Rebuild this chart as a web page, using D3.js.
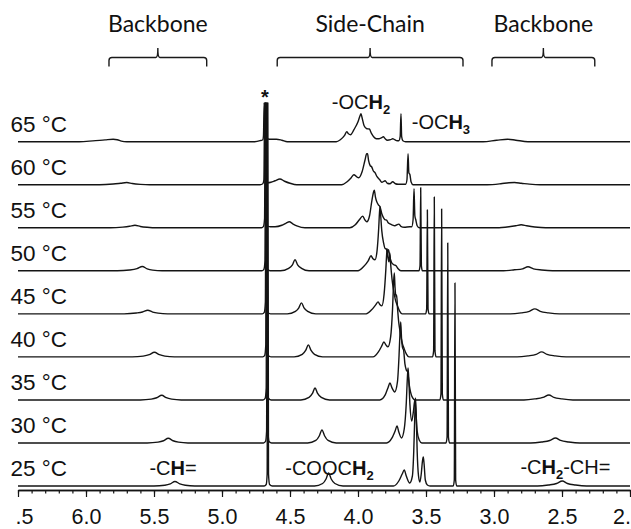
<!DOCTYPE html>
<html><head><meta charset="utf-8">
<script src="https://cdn.jsdelivr.net/npm/d3@7"></script>
<style>
body{margin:0;background:#fff} svg{display:block}
.arial{font-family:"Liberation Sans","Arimo",Arial,Helvetica,sans-serif}
.head{font-family:Lato,"Open Sans",sans-serif}
</style>
</head><body>
<svg id="c" width="631" height="529"></svg>
<script>
// ---------------- data ----------------
const temps = [25, 30, 35, 40, 45, 50, 55, 60, 65];
const tempLabels = ["25 °C", "30 °C", "35 °C", "40 °C", "45 °C", "50 °C", "55 °C", "60 °C", "65 °C"];

// [ppm, intensity] vertices of each spectrum
const spec25 = [[5.50,0],[5.42,0.8],[5.38,2.2],[5.346,4.5],[5.31,2.2],[5.27,0.8],[5.20,0],
 [4.69,0],[4.675,1.5],[4.668,12],[4.663,383],[4.658,12],[4.65,1.5],[4.63,0],
 [4.32,0],[4.26,2.5],[4.235,7],[4.216,13],[4.197,7],[4.17,2.5],[4.11,0],
 [3.74,0],[3.70,5],[3.675,12],[3.66,16],[3.645,10],[3.62,3],[3.60,10],[3.59,35],[3.582,72],[3.577,88],[3.572,72],[3.565,35],[3.555,10],[3.545,4],[3.535,12],[3.526,25],[3.52,29],[3.514,22],[3.505,6],[3.49,1],[3.47,0],
 [3.30,0],[3.292,6],[3.287,203],[3.282,6],[3.274,0],
 [2.68,0],[2.60,1],[2.54,2.5],[2.498,5],[2.46,2.5],[2.40,1],[2.32,0]];
const spec30 = [[5.55,0],[5.47,0.8],[5.43,2.2],[5.395,4.7],[5.36,2.2],[5.32,0.8],[5.25,0],
 [4.695,0],[4.68,1.5],[4.672,12],[4.667,340],[4.662,12],[4.654,1.5],[4.635,0],
 [4.37,0],[4.31,2.5],[4.285,7],[4.265,13],[4.245,7],[4.22,2.5],[4.16,0],
 [3.79,0],[3.75,5],[3.727,12],[3.713,17],[3.70,11],[3.68,5],[3.66,14],[3.645,40],[3.637,65],[3.632,75],[3.627,65],[3.618,38],[3.605,22],[3.592,32],[3.582,43],[3.575,32],[3.565,12],[3.55,3],[3.53,0],
 [3.353,0],[3.345,6],[3.340,200],[3.335,6],[3.327,0],
 [2.73,0],[2.65,1],[2.59,2.5],[2.548,5],[2.51,2.5],[2.45,1],[2.37,0]];
const spec35 = [[5.60,0],[5.52,0.8],[5.48,2.2],[5.443,4.7],[5.41,2.2],[5.37,0.8],[5.30,0],
 [4.698,0],[4.683,1.5],[4.675,12],[4.670,297],[4.665,12],[4.657,1.5],[4.638,0],
 [4.42,0],[4.36,2.5],[4.335,6.5],[4.316,12],[4.297,6.5],[4.27,2.5],[4.21,0],
 [3.84,0],[3.80,5],[3.78,12],[3.765,17],[3.75,12],[3.73,8],[3.71,18],[3.698,45],[3.691,68],[3.686,78],[3.68,62],[3.672,52],[3.665,50],[3.655,36],[3.645,30],[3.635,28],[3.622,14],[3.605,4],[3.58,0],
 [3.398,0],[3.39,6],[3.385,191],[3.38,6],[3.372,0],
 [2.78,0],[2.70,1],[2.64,2.5],[2.596,5],[2.56,2.5],[2.50,1],[2.42,0]];
const spec40 = [[5.66,0],[5.58,0.8],[5.535,2.2],[5.497,4.7],[5.46,2.2],[5.42,0.8],[5.35,0],
 [4.70,0],[4.686,1.5],[4.678,12],[4.673,254],[4.668,12],[4.66,1.5],[4.64,0],
 [4.47,0],[4.41,2.5],[4.385,6.5],[4.365,12],[4.345,6.5],[4.32,2.5],[4.26,0],
 [3.89,0],[3.85,5],[3.825,11],[3.81,15],[3.795,12],[3.78,10],[3.76,20],[3.746,48],[3.738,75],[3.733,84],[3.728,70],[3.72,60],[3.716,62],[3.709,48],[3.70,34],[3.69,25],[3.675,14],[3.66,8],[3.645,3],[3.625,0],
 [3.452,0],[3.444,6],[3.439,160],[3.434,6],[3.426,0],
 [2.83,0],[2.75,1],[2.69,2.5],[2.65,5],[2.61,2.5],[2.55,1],[2.47,0]];
const spec45 = [[5.72,0],[5.63,0.8],[5.585,1.8],[5.546,3.6],[5.51,1.8],[5.47,0.7],[5.40,0],
 [4.704,0],[4.689,1.5],[4.681,12],[4.676,211],[4.671,12],[4.663,1.5],[4.643,0],
 [4.52,0],[4.46,2.5],[4.435,6],[4.416,11],[4.397,6],[4.37,2.5],[4.31,0],
 [3.94,0],[3.90,4],[3.87,9],[3.852,12],[3.838,9],[3.825,8],[3.808,20],[3.795,45],[3.789,60],[3.785,65],[3.78,57],[3.772,52],[3.766,61],[3.76,50],[3.75,35],[3.74,25],[3.725,14],[3.71,8],[3.695,3],[3.675,0],
 [3.503,0],[3.495,5],[3.490,104],[3.485,5],[3.477,0],
 [2.88,0],[2.80,1],[2.74,2.5],[2.70,5],[2.66,2.5],[2.60,1],[2.52,0]];
const spec50 = [[5.77,0],[5.68,0.8],[5.625,2.2],[5.586,4.3],[5.55,2.0],[5.51,0.7],[5.44,0],
 [4.707,0],[4.692,1.5],[4.684,10],[4.679,168],[4.674,10],[4.666,1.5],[4.646,0],
 [4.57,0],[4.51,2.5],[4.482,6],[4.463,11],[4.444,6],[4.415,2.5],[4.36,0],
 [4.00,0],[3.96,4],[3.925,10],[3.904,15],[3.89,12],[3.875,11],[3.86,20],[3.848,42],[3.842,58],[3.838,64],[3.833,55],[3.825,40],[3.812,28],[3.80,22],[3.792,22],[3.784,18],[3.776,21],[3.766,14],[3.752,8],[3.735,6],[3.72,5],[3.705,2],[3.685,0],
 [3.552,0],[3.544,5],[3.539,83],[3.534,5],[3.526,0],
 [2.93,0],[2.85,1],[2.79,2],[2.75,4],[2.71,2],[2.65,0.8],[2.57,0]];
const spec55 = [[5.82,0],[5.73,0.7],[5.68,1.5],[5.64,2.5],[5.60,1.3],[5.55,0.5],[5.48,0],
 [4.71,0],[4.695,1.5],[4.687,9],[4.682,125],[4.677,9],[4.668,2],[4.645,1],
 [4.61,1],[4.56,2.5],[4.53,4.5],[4.505,6],[4.48,4],[4.45,2],[4.39,0],
 [4.06,0],[4.02,3],[3.99,8],[3.966,11.7],[3.95,8],[3.935,6],[3.915,12],[3.897,28],[3.885,36],[3.88,37.7],[3.872,31],[3.862,26],[3.85,23],[3.838,21],[3.825,14],[3.812,10],[3.80,8],[3.79,7.7],[3.778,5],[3.765,4],[3.75,3],[3.73,2],[3.70,3.7],[3.685,1.5],[3.66,0.5],[3.62,1],
 [3.605,1],[3.595,8],[3.588,39],[3.582,12],[3.575,8],[3.565,2],[3.55,0],
 [2.98,0],[2.89,1],[2.84,2],[2.80,3],[2.76,2],[2.70,0.8],[2.62,0]];
const spec60 = [[5.90,0],[5.80,0.7],[5.745,1.5],[5.70,2.2],[5.66,1.2],[5.60,0.4],[5.53,0],
 [4.72,0],[4.70,1],[4.692,5],[4.686,82],[4.680,5],[4.665,2],[4.64,2.5],[4.61,4],[4.574,5.7],[4.54,3.5],[4.50,1.5],[4.45,0],
 [4.12,0],[4.08,3],[4.05,7],[4.03,10],[4.01,8],[3.995,7],[3.97,13],[3.948,25],[3.936,31],[3.93,31],[3.922,24],[3.91,19],[3.90,18],[3.888,14],[3.875,12],[3.86,8],[3.84,5],[3.825,2.5],[3.80,4],[3.785,1.5],[3.765,1],[3.745,3],[3.725,1],[3.705,0.5],
 [3.65,0.5],[3.64,5],[3.632,31],[3.626,12],[3.618,10],[3.61,3],[3.595,0],
 [3.05,0],[2.95,1],[2.89,2],[2.85,2.2],[2.80,1.5],[2.74,0.6],[2.66,0]];
const spec65 = [[6.05,0],[5.95,0.8],[5.86,1.8],[5.80,2.4],[5.77,2.0],[5.74,0.6],[5.70,0],
 [4.76,0],[4.72,1],[4.70,2],[4.695,6],[4.690,39],[4.685,6],[4.675,3],[4.65,2.5],[4.60,2.5],[4.56,1.5],[4.52,0],
 [4.16,0],[4.13,2],[4.10,6],[4.083,10],[4.07,8],[4.055,7],[4.03,12],[4.00,20],[3.985,26],[3.978,28],[3.97,24],[3.955,16],[3.935,13],[3.917,12.7],[3.90,8],[3.885,5],[3.865,3],[3.845,3],[3.825,4],[3.814,5],[3.80,3],[3.785,1.5],[3.76,2],[3.745,3],[3.73,2],[3.712,1],
 [3.70,1],[3.69,5],[3.684,28],[3.679,5],[3.67,1],[3.65,0],
 [3.08,0],[2.98,1.5],[2.90,2.5],[2.84,1.5],[2.75,0]];
const spectra = [spec25, spec30, spec35, spec40, spec45, spec50, spec55, spec60, spec65];

const majorTicks = [6.5, 6.0, 5.5, 5.0, 4.5, 4.0, 3.5, 3.0, 2.5, 2.0];
const tickLabels = [".5", "6.0", "5.5", "5.0", "4.5", "4.0", "3.5", "3.0", "2.5", "2."];

const regionNames = ["Backbone", "Side-Chain", "Backbone"];
const regionFrom = [5.831, 4.594, 3.015];
const regionTo = [5.1125, 3.228, 2.259];

// peak labels: [text, style] parts (0 normal, 1 bold, 2 bold subscript)
const peakLabelParts = [
  [["-OC",0],["H",1],["2",2]],
  [["-OC",0],["H",1],["3",2]],
  [["*",1]],
  [["-C",0],["H",1],["=",0]],
  [["-COOC",0],["H",1],["2",2]],
  [["-C",0],["H",1],["2",2],["-CH=",0]]
];
const peakLabelPpm = [3.978, 3.605, 4.684, 5.36, 4.21, 2.475];

// ---------------- drawing ----------------
const svg = d3.select("#c");
const x = d3.scaleLinear().domain([6.5, 2.0]).range([18, 630]);
const base = d3.scalePoint().domain(temps).range([486, 141.7]);
const inten = d3.scaleLinear().domain([0, 100]).range([0, 100]);
const axisY = 490;

// spectra
temps.forEach((t, i) => {
  const b = base(t);
  const pts = [[6.5, 0]].concat(spectra[i], [[2.0, 0]]).sort((a, c) => c[0] - a[0]);
  const line = d3.line()
    .x(d => x(d[0]))
    .y(d => b - inten(d[1]))
    .curve(d3.curveMonotoneX);
  svg.append("path")
    .attr("d", line(pts))
    .attr("fill", "none")
    .attr("stroke", "#141414")
    .attr("stroke-width", 1.4)
    .attr("stroke-linejoin", "round");
  svg.append("text")
    .attr("class", "arial")
    .attr("x", 10.5)
    .attr("y", b - 10)
    .style("font-size", "22.5px")
    .attr("fill", "#111")
    .text(tempLabels[i]);
});

// axis
const minorTicks = d3.range(20, 66).map(v => v / 10);
const gMinor = svg.append("g").attr("transform", `translate(0,${axisY})`)
  .call(d3.axisBottom(x).tickValues(minorTicks).tickSize(3.5).tickSizeOuter(0).tickFormat(""));
const gMajor = svg.append("g").attr("transform", `translate(0,${axisY})`)
  .call(d3.axisBottom(x).tickValues(majorTicks).tickSize(7).tickSizeOuter(0).tickPadding(12)
    .tickFormat((d, i) => tickLabels[i]));
[gMinor, gMajor].forEach(g => {
  g.attr("font-family", null);
  g.select(".domain").attr("stroke", "#141414").attr("stroke-width", 1.6);
  g.selectAll(".tick line").attr("stroke", "#141414").attr("stroke-width", 1.2);
});
gMajor.selectAll(".tick text")
  .attr("class", "arial")
  .style("font-size", "21.5px")
  .attr("fill", "#111")
  .each(function(d, i) {
    const el = d3.select(this);
    if (i === 0) el.attr("text-anchor", "end").attr("dx", 15);
    if (i === majorTicks.length - 1) el.attr("text-anchor", "end").attr("dx", 0.5);
  });

// region braces and headings
const braceY = 57.5, braceEnd = 66.5, braceTip = 48;
regionNames.forEach((name, i) => {
  const x1 = x(regionFrom[i]), x2 = x(regionTo[i]), xc = (x1 + x2) / 2;
  const r = 3;
  const p = `M${x1},${braceEnd} L${x1},${braceY + r} Q${x1},${braceY} ${x1 + r},${braceY}` +
    ` L${xc - 2},${braceY} Q${xc},${braceY} ${xc},${braceTip}` +
    ` Q${xc},${braceY} ${xc + 2},${braceY} L${x2 - r},${braceY}` +
    ` Q${x2},${braceY} ${x2},${braceY + r} L${x2},${braceEnd}`;
  svg.append("path").attr("d", p).attr("fill", "none")
    .attr("stroke", "#1a1a1a").attr("stroke-width", 1.4);
  svg.append("text")
    .attr("class", "head")
    .attr("x", xc).attr("y", 31.7)
    .attr("text-anchor", "middle")
    .style("font-size", "23px")
    .attr("fill", "#111")
    .text(name);
});

// peak labels
const labelLayout = [
  {y: 109, anchor: "middle"},
  {y: 128.5, anchor: "start"},
  {y: 104, anchor: "middle"},
  {y: 475, anchor: "middle"},
  {y: 475, anchor: "middle"},
  {y: 474, anchor: "middle"}
];
peakLabelParts.forEach((parts, i) => {
  const t = svg.append("text")
    .attr("class", "arial")
    .attr("x", x(peakLabelPpm[i]))
    .attr("y", labelLayout[i].y)
    .attr("text-anchor", labelLayout[i].anchor)
    .style("font-size", "20px")
    .attr("fill", "#111");
  let shifted = false;
  parts.forEach(([s, f]) => {
    const ts = t.append("tspan").text(s);
    if (f === 2) {
      ts.attr("font-weight", "bold").style("font-size", "13px").attr("dy", 5);
      shifted = true;
    } else {
      if (f === 1) ts.attr("font-weight", "bold");
      if (shifted) { ts.attr("dy", -5); shifted = false; }
    }
  });
});
</script>
</body></html>
